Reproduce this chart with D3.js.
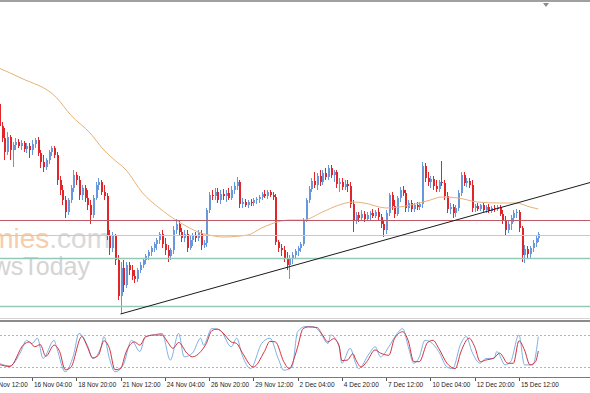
<html>
<head>
  <title>Chart</title>
  <script src='https://d3js.org/d3.v7.min.js'></script>
</head>
<style type="text/css">
body { margin: 0; background: #fff; overflow: hidden; }
.time-label { font-family: "Liberation Sans", Arial, sans-serif; font-size: 7.5px; fill: #1a1a1a; }
</style>
<body>
<script>

var width = 590,
    height = 393,
    firstBar = 4;

// 4h candles: [open, high, low, close]
var candles = [
  [226,232,202,204],[204,208,188,192],[192,202,170,178],[178,198,175,193],[193,195,170,180],
  [180,188,163,185],[185,192,180,188],[188,191,182,184],[184,190,180,187],[187,189,178,181],
  [181,187,177,184],[184,187,172,180],[180,190,175,186],[186,192,182,190],[190,193,174,177],
  [177,180,162,168],[168,175,158,163],[163,172,160,170],[170,180,166,178],[178,184,174,182],
  [182,184,172,175],[175,178,145,150],[150,154,135,140],[140,145,125,130],[130,134,112,118],
  [118,132,115,130],[130,145,127,142],[142,160,138,155],[155,158,145,150],[150,154,130,135],
  [135,145,130,142],[142,145,128,132],[132,140,120,125],[125,130,106,115],[115,135,112,132],
  [132,148,130,145],[145,152,140,148],[148,150,135,138],[138,145,130,134],[134,137,90,95],
  [95,100,75,82],[82,98,78,94],[94,96,65,70],[70,75,30,34],[34,68,16,62],
  [62,70,38,45],[45,68,42,65],[65,68,55,60],[60,65,50,54],[54,60,47,51],
  [51,62,48,60],[60,68,57,65],[65,72,62,70],[70,76,66,74],[74,80,70,78],
  [78,84,74,82],[82,88,78,86],[86,92,80,90],[90,98,86,96],[96,100,82,86],
  [86,92,75,80],[80,85,68,74],[74,82,70,80],[80,104,76,100],[100,111,96,106],
  [106,109,94,98],[98,102,88,92],[92,100,88,96],[96,100,78,82],[82,94,80,90],
  [90,97,84,94],[94,98,88,92],[92,100,89,97],[97,100,80,85],[85,90,82,87],
  [87,122,83,120],[120,138,117,135],[135,140,130,134],[134,142,130,138],[138,142,127,130],
  [130,140,126,136],[136,141,130,134],[134,140,128,137],[137,142,130,132],[132,144,130,140],
  [140,148,136,144],[144,153,140,148],[148,150,122,126],[126,132,122,128],[128,131,123,125],
  [125,130,122,128],[128,131,124,127],[127,132,124,130],[130,133,126,131],[131,135,127,133],
  [133,138,130,136],[136,140,132,134],[134,140,131,138],[138,140,133,135],[135,138,130,133],
  [133,136,85,88],[88,90,78,82],[82,86,74,80],[80,84,68,72],[72,78,60,65],
  [65,75,51,72],[72,78,66,75],[75,81,72,79],[79,84,74,82],[82,88,78,86],
  [86,112,84,110],[110,132,108,130],[130,144,127,141],[141,152,138,149],[149,158,142,145],
  [145,157,140,154],[154,160,144,148],[148,160,145,157],[157,162,150,153],[153,165,150,162],
  [162,165,152,155],[155,160,148,158],[158,160,142,146],[146,152,138,148],[148,152,140,143],
  [143,150,140,146],[146,150,138,144],[144,148,122,126],[126,130,98,110],[110,118,106,115],
  [115,118,108,112],[112,120,110,116],[116,119,108,111],[111,118,109,115],[115,119,110,117],
  [117,121,112,114],[114,120,112,118],[118,122,110,113],[113,116,102,106],[106,110,93,100],
  [100,120,96,117],[117,137,114,135],[135,138,120,124],[124,130,112,116],[116,134,114,132],
  [132,143,128,140],[140,144,134,137],[137,140,118,122],[122,130,118,127],[127,130,118,121],
  [121,127,118,125],[125,128,120,123],[123,128,120,126],[126,168,122,164],[164,167,148,152],
  [152,158,144,148],[148,154,142,151],[151,154,140,144],[144,150,138,141],[141,150,138,148],
  [148,169,144,147],[147,150,130,134],[134,138,117,121],[121,127,116,123],[123,126,112,117],
  [117,125,113,122],[122,140,119,137],[137,158,134,155],[155,158,144,147],[147,152,143,149],
  [149,152,142,145],[145,150,118,122],[122,126,118,124],[124,127,119,121],[121,126,119,125],
  [125,127,118,120],[120,125,117,123],[123,126,117,119],[119,124,117,122],[122,125,118,121],
  [121,125,119,123],[123,125,114,116],[116,120,106,109],[109,114,94,100],[100,110,97,106],
  [106,115,100,112],[112,120,108,117],[117,121,112,118],[118,120,98,102],[102,104,68,75],
  [75,85,67,81],[81,84,72,76],[76,84,72,82],[82,90,78,87],[87,94,83,92],
  [92,98,88,96]
];

// moving average: [bar, value]
var maPoints = [
  [4,262],[12,252],[25,232],[30,215],[37,197],[42,180],[45,172],[50,160],[56,137],
  [62,122],[68,110],[73,102],[76,98],[80,95],[85,93],[94,95],[99,102],[106,109],
  [109,110],[114,110],[121,118],[127,125],[132,128],[136,127],[144,122],[153,125],
  [160,130],[164,133],[170,132],[177,128],[185,127],[191,127],[196,123],[199,121]
];

// stochastic %K (blue) and %D (red): [bar, value]
var stochK = [
  [4,27],[8,22],[12,49],[14,70],[16,64],[18,74],[20,36],[24,70],[25,55],[28,11],[31,42],
  [33,83],[36,61],[38,36],[41,58],[42,77],[44,36],[46,11],[49,24],[52,70],[55,49],[57,77],
  [60,80],[63,83],[66,33],[69,83],[71,39],[74,46],[77,74],[78,61],[81,92],[84,89],[88,58],
  [90,74],[92,42],[95,17],[99,64],[102,74],[105,36],[107,14],[110,20],[112,86],[115,96],
  [118,95],[120,86],[123,64],[124,80],[127,58],[128,27],[131,55],[133,27],[134,17],[138,46],
  [140,58],[142,39],[145,58],[148,83],[150,92],[152,58],[154,27],[156,39],[158,70],[160,67],
  [163,49],[166,20],[168,17],[171,64],[173,77],[175,49],[178,27],[180,36],[183,36],[184,49],
  [187,24],[189,30],[192,80],[194,24],[197,24],[199,77]
];
var stochD = [
  [4,25],[8,21],[13,62],[15,67],[17,58],[19,62],[21,40],[24,61],[26,49],[28,15],[30,19],
  [34,77],[36,58],[38,37],[40,42],[42,69],[44,55],[46,15],[48,17],[50,48],[53,67],[55,61],
  [57,76],[60,80],[63,80],[65,67],[67,55],[69,66],[72,46],[74,39],[77,49],[79,64],[81,88],
  [83,91],[85,84],[88,67],[90,64],[92,47],[96,20],[100,49],[102,68],[104,67],[107,30],
  [109,17],[111,40],[112,57],[114,92],[116,95],[119,94],[121,80],[123,67],[125,73],[127,60],
  [128,32],[130,33],[132,45],[133,34],[135,20],[137,30],[140,52],[142,46],[145,42],[147,73],
  [150,86],[152,69],[154,30],[156,30],[159,66],[161,70],[163,55],[166,27],[169,17],[171,48],
  [174,74],[176,58],[178,30],[180,33],[183,37],[185,46],[188,27],[190,27],[192,69],[194,52],
  [196,24],[198,30],[199,50]
];
var stochLevels = [80, 20];

// horizontal levels and trend line anchors
var hLevels = [
  {value: 109.5, color: "#bd5a66", width: 1},
  {value: 94.7, color: "#c9c9c9", width: 1},
  {value: 71.7, color: "#93c9b6", width: 1.5},
  {value: 24, color: "#93c9b6", width: 1.5}
];
var trendAnchors = [[48, 16], [190, 126]];

var timeLabels = ["13 Nov 12:00", "16 Nov 04:00", "18 Nov 20:00", "21 Nov 12:00", "24 Nov 04:00",
                  "26 Nov 20:00", "29 Nov 12:00", "2 Dec 04:00", "4 Dec 20:00", "7 Dec 12:00",
                  "10 Dec 04:00", "12 Dec 20:00", "15 Dec 12:00"];
var labelBars = [0, 16, 32, 48, 64, 80, 96, 112, 128, 144, 160, 176, 192];

var xScale = d3.scaleLinear().domain([0, 199]).range([-12.3, 538.3]);
var yScale = d3.scaleLinear().domain([12, 327]).range([318, 3]);
var yStoch = d3.scaleLinear().domain([0, 100]).range([377.7, 324.3]);

var svg = d3.select('body')
  .append('svg')
  .attr('width', width)
  .attr('height', height);

svg.append('rect')
  .attr('width', width)
  .attr('height', height)
  .attr('fill', 'white');

var defs = svg.append('defs');
defs.append('clipPath').attr('id', 'clipMain')
  .append('rect').attr('x', 0).attr('y', 3).attr('width', width).attr('height', 315);
defs.append('clipPath').attr('id', 'clipStoch')
  .append('rect').attr('x', 0).attr('y', 322).attr('width', width).attr('height', 55);

var main = svg.append('g').attr('clip-path', 'url(#clipMain)');

// watermark
var wm1 = main.append('text')
  .attr('x', 110)
  .attr('y', 248)
  .attr('text-anchor', 'end')
  .style('font-family', '"Liberation Sans", Arial, sans-serif')
  .style('font-size', '28px');
wm1.append('tspan').attr('fill', '#f6ceae').text('economies');
wm1.append('tspan').attr('fill', '#d9d9d9').text('.com');

main.append('text')
  .attr('x', 90)
  .attr('y', 275)
  .attr('text-anchor', 'end')
  .attr('fill', '#d4d4d4')
  .style('font-family', '"Liberation Sans", Arial, sans-serif')
  .style('font-size', '25px')
  .text('NewsToday');

// candles
var candleG = main.selectAll('g.candle')
  .data(candles)
  .enter().append('g')
  .attr('class', 'candle')
  .attr('fill', function(d) { return d[3] >= d[0] ? '#6797dd' : '#e0262b'; })
  .attr('stroke', function(d) { return d[3] >= d[0] ? '#6797dd' : '#e0262b'; });

candleG.append('line')
  .attr('x1', function(d, i) { return Math.round(xScale(firstBar + i)) + 0.5; })
  .attr('x2', function(d, i) { return Math.round(xScale(firstBar + i)) + 0.5; })
  .attr('y1', function(d) { return yScale(d[1]); })
  .attr('y2', function(d) { return yScale(d[2]); })
  .attr('stroke-width', 1);

candleG.append('rect')
  .attr('stroke', 'none')
  .attr('x', function(d, i) { return Math.round(xScale(firstBar + i)); })
  .attr('width', 2)
  .attr('y', function(d) { return yScale(Math.max(d[0], d[3])); })
  .attr('height', function(d) { return Math.max(1, Math.abs(yScale(d[0]) - yScale(d[3]))); });

// moving average
main.append('path')
  .datum(maPoints)
  .attr('fill', 'none')
  .attr('stroke', '#e6b27a')
  .attr('stroke-width', 1)
  .attr('d', d3.line()
    .curve(d3.curveMonotoneX)
    .x(function(d) { return xScale(d[0]); })
    .y(function(d) { return yScale(d[1]); }));

// horizontal lines
main.selectAll('line.level')
  .data(hLevels)
  .enter().append('line')
  .attr('class', 'level')
  .attr('x1', 0)
  .attr('x2', width)
  .attr('y1', function(d) { return Math.round(yScale(d.value)) + 0.5; })
  .attr('y2', function(d) { return Math.round(yScale(d.value)) + 0.5; })
  .attr('stroke', function(d) { return d.color; })
  .attr('stroke-width', function(d) { return d.width; });

// trend line, extended to the right edge
var slope = (trendAnchors[1][1] - trendAnchors[0][1]) / (trendAnchors[1][0] - trendAnchors[0][0]);
var endBar = xScale.invert(width);
main.append('line')
  .attr('x1', xScale(trendAnchors[0][0]))
  .attr('y1', yScale(trendAnchors[0][1]))
  .attr('x2', width)
  .attr('y2', yScale(trendAnchors[0][1] + slope * (endBar - trendAnchors[0][0])))
  .attr('stroke', '#1b1b1b')
  .attr('stroke-width', 1);

// frame
svg.append('rect').attr('x', 0).attr('y', 0).attr('width', width).attr('height', 2).attr('fill', '#a0a0a0');
svg.append('path').attr('d', 'M543,3 L549,3 L546,7 Z').attr('fill', '#8a8a8a');
svg.append('line').attr('x1', 0).attr('x2', width).attr('y1', 318.5).attr('y2', 318.5).attr('stroke', '#d4d4d4');
svg.append('rect').attr('x', 0).attr('y', 320).attr('width', width).attr('height', 2).attr('fill', '#8c8c8c');
svg.append('line').attr('x1', 0).attr('x2', width).attr('y1', 377.5).attr('y2', 377.5).attr('stroke', '#7a7a7a');

// stochastic panel
var sub = svg.append('g').attr('clip-path', 'url(#clipStoch)');

sub.selectAll('line.lvl')
  .data(stochLevels)
  .enter().append('line')
  .attr('class', 'lvl')
  .attr('x1', 0)
  .attr('x2', width)
  .attr('y1', function(d) { return Math.round(yStoch(d)) + 0.5; })
  .attr('y2', function(d) { return Math.round(yStoch(d)) + 0.5; })
  .attr('stroke', '#b4b4b4')
  .attr('stroke-dasharray', '2,2');

var stochLine = d3.line()
  .curve(d3.curveMonotoneX)
  .x(function(d) { return xScale(d[0]); })
  .y(function(d) { return yStoch(d[1]); });

sub.append('path')
  .datum(stochK)
  .attr('fill', 'none')
  .attr('stroke', '#7fb1e3')
  .attr('stroke-width', 1)
  .attr('d', stochLine);

sub.append('path')
  .datum(stochD)
  .attr('fill', 'none')
  .attr('stroke', '#d2323f')
  .attr('stroke-width', 1)
  .attr('d', stochLine);

// time axis
var axisG = svg.append('g');
axisG.selectAll('line.tk')
  .data(labelBars)
  .enter().append('line')
  .attr('class', 'tk')
  .attr('x1', function(d) { return Math.round(xScale(d)) + 0.5; })
  .attr('x2', function(d) { return Math.round(xScale(d)) + 0.5; })
  .attr('y1', 378)
  .attr('y2', 381)
  .attr('stroke', '#555');

axisG.selectAll('text')
  .data(labelBars)
  .enter().append('text')
  .attr('class', 'time-label')
  .attr('x', function(d) { return xScale(d) + 2; })
  .attr('y', 387)
  .attr('textLength', function(d, i) { return timeLabels[i].length > 11 ? 38 : 35; })
  .attr('lengthAdjust', 'spacingAndGlyphs')
  .text(function(d, i) { return timeLabels[i]; });

</script>
</body>
</html>
